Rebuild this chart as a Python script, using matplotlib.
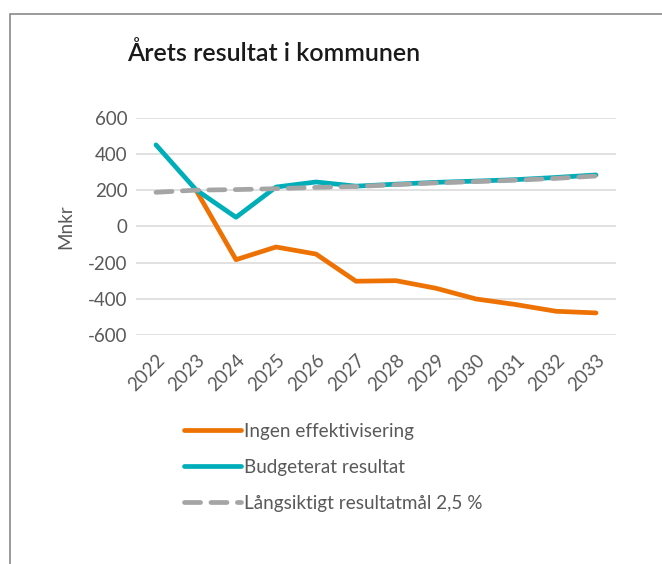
import numpy as np
import matplotlib.pyplot as plt
from matplotlib.patches import Rectangle

years = [str(y) for y in range(2022, 2034)]
ingen_eff = [np.nan, 200, -184, -114, -153, -303, -300, -342, -401, -432, -469, -478]
budgeterat = [450, 202, 50, 217, 245, 222, 233, 243, 250, 258, 270, 284]
resultatmal = [188, 200, 203, 208, 215, 220, 230, 240, 247, 255, 265, 278]

orange = "#EE7203"
teal = "#00AEB9"
gray = "#A5A5A5"
text_gray = "#595959"

plt.rcParams["font.family"] = ["Lato", "DejaVu Sans"]
plt.rcParams["axes.unicode_minus"] = False

W, H = 662, 564
fig = plt.figure(figsize=(W / 100, H / 100), dpi=100)

# frame around the chart area, open to the right and bottom
top = 1 - 14 / H
fig.patches.append(Rectangle((10 / W, -0.5), 2, top + 0.5,
                             transform=fig.transFigure, fill=False,
                             edgecolor="#8a8a8a", linewidth=1.2))

ax = fig.add_axes([136 / W, 1 - 335 / H, 480 / W, (335 - 117.7) / H])
x = np.arange(len(years))

l1, = ax.plot(x, ingen_eff, color=orange, lw=3.4, solid_capstyle="round",
              solid_joinstyle="round", label="Ingen effektivisering", zorder=3)
l2, = ax.plot(x, budgeterat, color=teal, lw=3.4, solid_capstyle="round",
              solid_joinstyle="round", label="Budgeterat resultat", zorder=3)
l3, = ax.plot(x, resultatmal, color=gray, lw=3.4, dashes=(3.4, 2.2),
              dash_capstyle="round", label="Långsiktigt resultatmål 2,5 %", zorder=4)

ax.set_xlim(-0.5, len(years) - 0.5)
ax.set_ylim(-600, 600)
ax.set_yticks(range(-600, 601, 200))
ax.set_xticks(x)
ax.set_xticklabels(years, rotation=45, ha="right", rotation_mode="anchor")
ax.grid(axis="y", color="#D9D9D9", lw=1.1)
ax.set_axisbelow(True)
for s in ax.spines.values():
    s.set_visible(False)
ax.tick_params(length=0, labelsize=13.5, colors=text_gray)
ax.tick_params(axis="y", pad=6)
ax.tick_params(axis="x", pad=12)
ax.set_ylabel("Mnkr", fontsize=13.5, color=text_gray, labelpad=10)

fig.text(127 / W, 1 - 53 / H, "Årets resultat i kommunen", fontsize=18,
         fontweight="semibold", color="#1a1a1a", va="center", ha="left")

leg = fig.legend(handles=[l1, l2, l3], loc="upper left",
                 bbox_to_anchor=(167 / W, 1 - 406 / H), frameon=False,
                 fontsize=13.6, handlelength=3.0, handletextpad=0.15,
                 labelspacing=1.0, labelcolor=text_gray)

fig.savefig("out.png", dpi=100)
